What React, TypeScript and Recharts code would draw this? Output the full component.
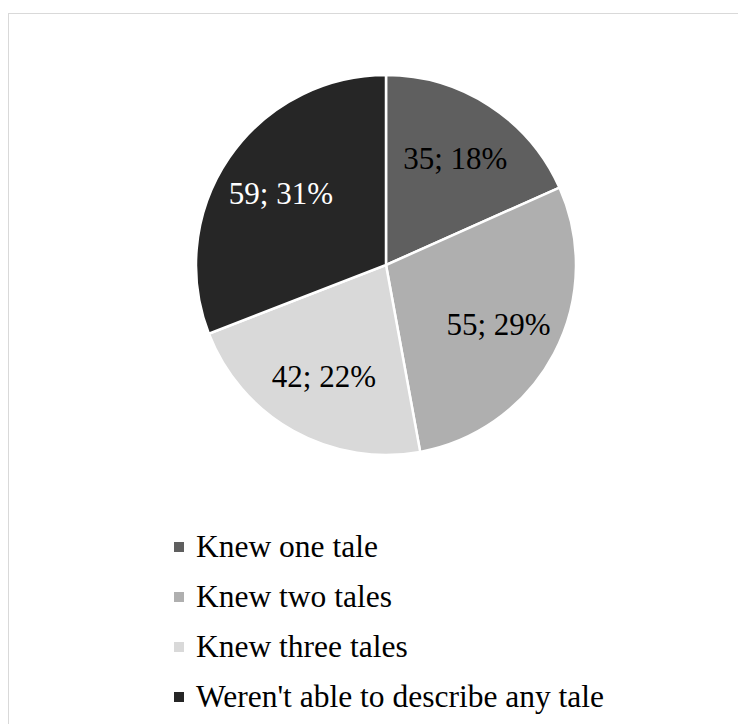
import React from "react";
import { PieChart, Pie, Cell } from "recharts";

const categories = [
  "Knew one tale",
  "Knew two tales",
  "Knew three tales",
  "Weren't able to describe any tale",
];
const counts = [35, 55, 42, 59];
const colors = ["#5f5f5f", "#afafaf", "#d9d9d9", "#262626"];
const labelColors = ["#000000", "#000000", "#000000", "#ffffff"];

const total = counts.reduce((a, b) => a + b, 0);
const data = categories.map((name, i) => ({ name, value: counts[i] }));

const FONT = "'Times New Roman', 'Liberation Serif', serif";
const RAD = Math.PI / 180;

const renderLabel = (props: any) => {
  const { cx, cy, midAngle, outerRadius, value, index } = props;
  const r = outerRadius * 0.67;
  const x = cx + r * Math.cos(-midAngle * RAD);
  const y = cy + r * Math.sin(-midAngle * RAD);
  const pct = Math.round((value / total) * 100);
  return (
    <text
      x={x}
      y={y}
      fill={labelColors[index]}
      textAnchor="middle"
      dominantBaseline="central"
      fontFamily={FONT}
      fontSize={31}
    >
      {`${value}; ${pct}%`}
    </text>
  );
};

export default function App() {
  return (
    <div style={{ width: 738, height: 716, overflow: "hidden" }}>
      <div
        style={{
          marginTop: 5,
          width: 780,
          height: 760,
          border: "1px solid #d9d9d9",
          boxSizing: "border-box",
          position: "relative",
        }}
      >
        <div style={{ position: "absolute", left: -1, top: -6 }}>
          <PieChart
            width={738}
            height={500}
            margin={{ top: 0, right: 0, bottom: 0, left: 0 }}
          >
            <Pie
              data={data}
              dataKey="value"
              nameKey="name"
              cx={378}
              cy={257}
              outerRadius={190}
              startAngle={90}
              endAngle={-270}
              stroke="#ffffff"
              strokeWidth={2.5}
              label={renderLabel}
              labelLine={false}
              isAnimationActive={false}
            >
              {data.map((_, i) => (
                <Cell key={i} fill={colors[i]} />
              ))}
            </Pie>
          </PieChart>
        </div>
        <div
          style={{
            position: "absolute",
            left: 165,
            top: 508,
            fontFamily: FONT,
            fontSize: 31.5,
            color: "#000",
          }}
        >
          {categories.map((name, i) => (
            <div
              key={name}
              style={{ display: "flex", alignItems: "center", height: 50 }}
            >
              <span
                style={{
                  display: "inline-block",
                  width: 10,
                  height: 10,
                  background: colors[i],
                  marginRight: 12,
                }}
              />
              <span>{name}</span>
            </div>
          ))}
        </div>
      </div>
    </div>
  );
}
